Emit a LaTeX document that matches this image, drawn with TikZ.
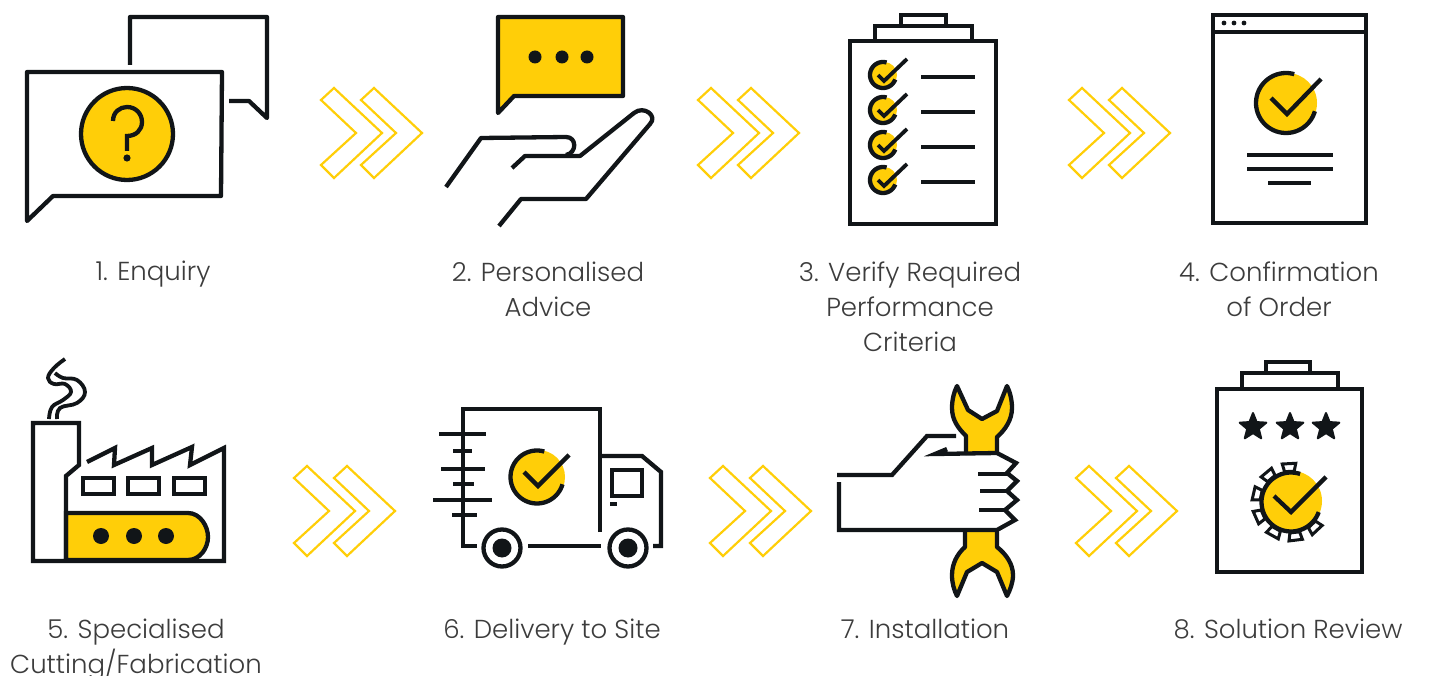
\documentclass[tikz,border=0pt]{standalone}
\usepackage{fontspec}
\setmainfont{Poppins Light}
\usetikzlibrary{shapes.geometric}
\definecolor{ink}{HTML}{111518}
\definecolor{gold}{HTML}{FFCE08}
\definecolor{txt}{HTML}{3C3C3C}
\newcommand{\ringarc}[5]{\draw[ink,line width=#4] plot[domain=#5,samples=50] ({#1+#3*cos(\x)},{#2-#3*sin(\x)});}
\newcommand{\chev}[2]{\begin{scope}[shift={(#1,#2)}]
 \draw[chevline] (0,-45)--(48,0)--(0,45)--(-13,32)--(22,0)--(-13,-33)--cycle;
 \draw[chevline] (40,-45)--(88,0)--(40,45)--(27,32)--(62,0)--(27,-33)--cycle;
\end{scope}}
\begin{document}
\begin{tikzpicture}[x=1pt,y=-1pt,
 chevline/.style={draw=gold,line width=2.2pt,miter limit=10},
 ln/.style={draw=ink,line width=4.3pt},
 lnr/.style={draw=ink,line width=4.3pt,line join=round,line cap=round},
 thin3/.style={draw=ink,line width=3.4pt},
 win/.style={draw=ink,line width=4pt},
 dot/.style={fill=ink,draw=none},
 lab/.style={font=\fontsize{26}{34.6}\selectfont,text=txt,align=center,anchor=north,inner sep=0pt}]
\useasboundingbox (0,0) rectangle (1432,676);
% 1 Enquiry
\draw[ln,line join=round] (130,65)--(130,17)--(267,17)--(267,118)--(249,101)--(229,101);
\draw[lnr] (27,72)--(222,72)--(221,196)--(53,196)--(27,221)--cycle;
\draw[ln,fill=gold] (127,134) circle (46);
\draw[draw=ink,line width=4.3pt] (113,121) .. controls (113,112) and (120,107) .. (127,107) .. controls (136,107) and (142,114) .. (142,122) .. controls (142,130) and (136,136) .. (127,136) -- (127,151);
\fill[ink] (127,158) circle (3.6);
% 2 Advice
\draw[lnr,fill=gold] (498,17)--(623,17)--(623,96)--(514,96)--(498,113)--cycle;
\foreach \xx in {535,562,587} \fill[ink] (\xx,57) circle (6.5);
\draw[draw=ink,line width=4.3pt,line join=round] (446,187)--(481,138)--(566,137) .. controls (577,137) and (577,153) .. (566,155);
\draw[draw=ink,line width=4.3pt,line join=round] (512,168)--(525,156)--(580,156)--(634,113) .. controls (644,105) and (658,116) .. (650,124)--(586,199)--(521,199)--(499,226);
% 3 Checklist
\draw[ln] (901,26)--(901,15)--(946,15)--(946,26);
\draw[ln] (875,41)--(875,26)--(972,26)--(972,41);
\draw[ln] (850,41) rectangle (996,224);
\foreach \yy/\ll in {75/77,110/112,145/147,180/182}{
 \fill[gold] (884,\yy) circle (13);
 \ringarc{883}{\yy}{13}{4.3pt}{74:340}
 \draw[draw=ink,line width=3.8pt] (878,\yy)--(884,\yy+6)--(907,\yy-16);
 \draw[thin3] (921,\ll)--(975,\ll);
}
% 4 Confirmation
\draw[ln] (1213,15) rectangle (1366,223);
\draw[ln] (1213,32)--(1366,32);
\foreach \xx in {1224,1234,1244} \fill[ink] (\xx,23) circle (2.4);
\fill[gold] (1287,103) circle (30);
\ringarc{1286}{103}{30}{4.3pt}{74:344}
\draw[ln] (1271,98)--(1287,114)--(1321,79);
\draw[ln] (1247,155)--(1333,155);
\draw[ln] (1247,169)--(1333,169);
\draw[ln] (1268,183)--(1311,183);
% 5 Factory
\draw[draw=ink,line width=3.8pt,line join=round] plot[smooth,tension=0.7] coordinates {(49,419)(52,407)(63,400)(71,392)(65,384)(54,384)(48,378)(54,368)(65,359)};
\draw[draw=ink,line width=3.8pt] plot[smooth,tension=0.7] coordinates {(57,419)(60,408)(77,403)(85,392)(77,380)(63,378)(55,373)};
\draw[ln,fill=gold] (66,513)--(188,513) .. controls (200,513) and (208,526) .. (208,537) .. controls (208,548) and (200,560) .. (188,560)--(66,560)--cycle;
\draw[ln] (66,561)--(66,476)--(79,465)--(79,423)--(33,423)--(33,561)--(224,561)--(224,448)--(190,465)--(192,447)--(152,465)--(152,448)--(114,465)--(115,448)--(87,462);
\foreach \xx in {83,128,174} \draw[win] (\xx,478) rectangle (\xx+31,494);
\foreach \xx in {101,134,166} \fill[ink] (\xx,536) circle (8);
% 6 Truck
\draw[ln] (600,532)--(600,409)--(463,409)--(463,546)--(477,546);
\draw[ln] (528,546)--(601,546);
\draw[ln] (602,456)--(642,456)--(661,472)--(661,546)--(653,546);
\draw[win] (612,470) rectangle (642,496);
\draw[win] (610,504)--(617,504);
\foreach \xx in {502,628}{
 \draw[ln] (\xx,548) circle (18.5);
 \fill[ink] (\xx,548) circle (9.5);
}
\foreach \aa/\bb/\yy in {439/486/434,453/472/451,441/485/469,453/474/484,433/492/500,452/477/515}
 \draw[draw=ink,line width=4pt] (\aa,\yy)--(\bb,\yy);
\fill[gold] (538,477) circle (27);
\ringarc{537}{477}{26.5}{4.3pt}{74:344}
\draw[ln] (524,472)--(538,486)--(569,455);
% 7 Installation
\draw[lnr,fill=gold] (966,453)--(966,436) .. controls (958,428) and (952,420) .. (952,408) .. controls (952,400) and (954,392) .. (957,386)--(968,410)--(982,419)--(997,411)--(1007,386) .. controls (1010,392) and (1012,400) .. (1012,408) .. controls (1012,420) and (1005,430) .. (997,437)--(997,453);
\draw[lnr,fill=gold] (965,532)--(965,547) .. controls (957,554) and (952,564) .. (952,575) .. controls (952,583) and (954,590) .. (957,596)--(967,572)--(982,563)--(997,572)--(1007,596) .. controls (1010,590) and (1013,583) .. (1013,575) .. controls (1013,564) and (1006,554) .. (997,547)--(997,532);
\draw[ln] (837,475)--(892,475)--(927,436)--(956,436);
\draw[ln] (947,449)--(935,454)--(997,453)--(1016,463)--(1007,473)--(1017,481)--(1007,491)--(1017,500)--(1005,510)--(1015,520)--(997,530)--(839,530)--(839,482);
\draw[ln] (978,474)--(1007,474);
\draw[ln] (980,491)--(1007,491);
\draw[ln] (979,510)--(1005,510);
% 8 Review
\draw[ln] (1266,373)--(1266,362)--(1310,362)--(1310,373);
\draw[ln] (1242,389)--(1242,373)--(1338,373)--(1338,389);
\draw[ln] (1217,389) rectangle (1362,572);
\foreach \nn/\xx in {sa/1253,sb/1290,sc/1326}
 \node[star,star points=5,star point ratio=2.3,fill=ink,draw=ink,line width=2pt,line join=round,minimum size=28pt,inner sep=0pt] (\nn) at (\xx,427) {};
\foreach \a in {93,130,167,204,241,277,313}
 \draw[draw=ink,line width=3pt,fill=white] ({1291+31*cos(\a-9)},{502-31*sin(\a-9)})--({1291+39*cos(\a-10)},{502-39*sin(\a-10)})--({1291+39*cos(\a+10)},{502-39*sin(\a+10)})--({1291+31*cos(\a+9)},{502-31*sin(\a+9)})--cycle;
\fill[white] (1291,502) circle (30);
\fill[gold] (1292,501) circle (30);
\ringarc{1291}{502}{29.5}{4.3pt}{72:340}
\draw[ln] (1274,496)--(1291,512)--(1326,477);
% Chevrons
\chev{334}{133}\chev{711}{133}\chev{1082}{133}
\chev{307}{511}\chev{723}{511}\chev{1089}{511}
% Labels
\node[lab] (l1) at (153,261) {1. Enquiry};
\node[lab] (l2) at (548,262) {2. Personalised\\Advice};
\node[lab] (l3) at (910,262) {3. Verify Required\\Performance\\Criteria};
\node[lab] (l4) at (1279,262) {4. Confirmation\\of Order};
\node[lab] (l5) at (136,619) {5. Specialised\\Cutting/Fabrication};
\node[lab] (l6) at (552,619) {6. Delivery to Site};
\node[lab] (l7) at (925,619) {7. Installation};
\node[lab] (l8) at (1288,619) {8. Solution Review};
\end{tikzpicture}
\end{document}
